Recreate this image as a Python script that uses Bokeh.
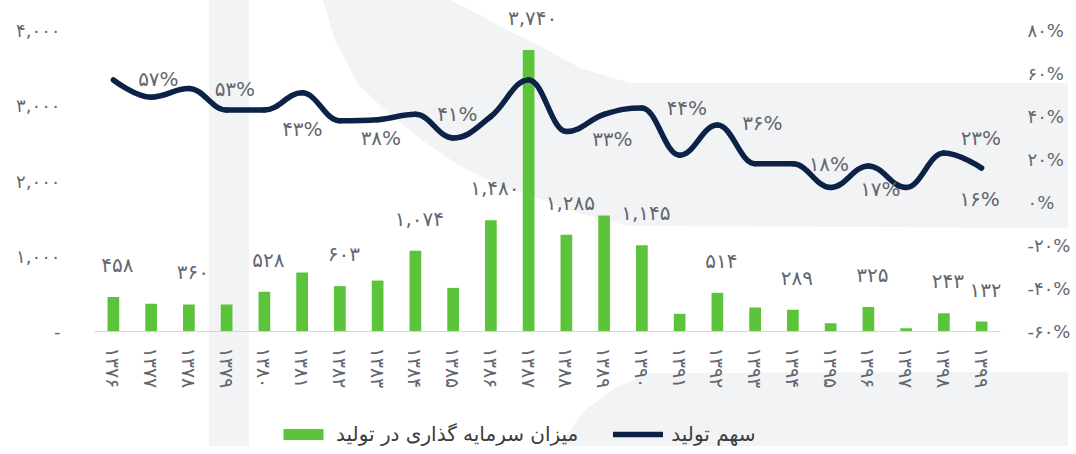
import numpy as np
from urllib.parse import quote
from bokeh.plotting import figure
from bokeh.models import (ColumnDataSource, Range1d, LinearAxis, FixedTicker,
                          LabelSet, Legend, LegendItem)
from bokeh.core.properties import value
from bokeh.embed import file_html
from bokeh.resources import INLINE

# ---------------- data ----------------
years = [1376, 1377, 1378, 1379, 1380, 1381, 1382, 1383, 1384, 1385, 1386, 1387,
         1388, 1389, 1390, 1391, 1392, 1393, 1394, 1395, 1396, 1397, 1398, 1399]
investment = [458, 368, 360, 359, 528, 784, 603, 677, 1074, 580, 1480, 3740,
              1285, 1540, 1145, 235, 514, 319, 289, 110, 325, 44, 243, 132]
invest_labelled = [1, 0, 1, 0, 1, 0, 1, 0, 1, 0, 1, 1,
                   1, 0, 1, 0, 1, 0, 1, 0, 1, 0, 1, 1]
share = [57, 49, 53, 43, 43, 51, 38, 38.5, 41, 30, 40, 57,
         33, 41, 44, 22, 36, 18, 18, 7, 17, 7, 23, 16]
share_labelled = [1, 0, 1, 0, 1, 0, 1, 0, 1, 0, 0, 0,
                  1, 0, 1, 0, 1, 0, 1, 0, 1, 0, 1, 1]
left_ticks = [0, 1000, 2000, 3000, 4000]
right_ticks = [-60, -40, -20, 0, 20, 40, 60, 80]
bar_name = "میزان سرمایه گذاری در تولید"
line_name = "سهم تولید"

# label placement (screen px) for the percent labels, in order of labelled points
pct_dx = [45, 46, 38, 41, 42, 46, 45, 45, 36, 12, 37, -2]
pct_dy = [1, 0, -19, -17, 0, -7, 0, 2, 0, -23, 15, -31]

FA = str.maketrans("0123456789", "۰۱۲۳۴۵۶۷۸۹")
def fa(s):
    return str(s).translate(FA)

FONT = "DejaVu Sans"
GREEN = "#5cc43b"
NAVY = "#0c2247"
GREY = "#f2f3f5"
TXT = "#63666f"

W, H = 1068, 446
TOP, BASE = 30, 331          # pixel rows of the value-axis maximum and of the zero line
n = len(years)
xs = list(range(n))

# ---------------- decorative watermark behind the chart (CSS background) ----------------
def poly(pts):
    return '<polygon fill="%s" points="%s"/>' % (GREY, " ".join("%d,%d" % q for q in pts))
deco = [
    [(209, 0), (249, 0), (249, H), (209, H)],
    [(323, 0), (335, 40), (357, 83), (390, 115), (423, 141), (460, 166), (500, 186),
     (540, 199), (580, 214), (630, 226), (W, 228), (W, 83), (630, 83), (580, 68),
     (540, 46), (507, 30), (480, 15), (450, 0)],
    [(558, H), (585, 410), (615, 388), (650, 373), (W, 372), (W, H)],
]
svg = ('<svg xmlns="http://www.w3.org/2000/svg" width="%d" height="%d">' % (W, H)
       + "".join(poly(d) for d in deco) + "</svg>")
bg = 'url("data:image/svg+xml;utf8,%s")' % quote(svg)

# the frame covers the full canvas height (so labels are never clipped);
# the value scales are set so that 0..4000 / -60..80% span rows BASE..TOP
span_px = BASE - TOP
below_px = H - BASE
above_px = TOP
lmax = left_ticks[-1]
l_lo = -lmax * below_px / span_px
l_hi = lmax + lmax * above_px / span_px
rlo, rhi = right_ticks[0], right_ticks[-1]
r_lo = rlo - (rhi - rlo) * below_px / span_px
r_hi = rhi + (rhi - rlo) * above_px / span_px

p = figure(frame_width=906, frame_height=H, min_border_left=94, min_border_right=68,
           min_border_top=0, min_border_bottom=0,
           x_range=Range1d(-0.5, n - 0.5), y_range=Range1d(l_lo, l_hi),
           output_backend="svg", toolbar_location=None)
p.styles = {"background-image": bg, "background-repeat": "no-repeat",
            "background-color": "white"}
p.border_fill_color = None
p.background_fill_color = None
p.outline_line_color = None
p.xgrid.visible = False
p.ygrid.visible = False
p.extra_y_ranges = {"pct": Range1d(r_lo, r_hi)}

# ---------------- bars ----------------
src = ColumnDataSource(dict(x=xs, v=investment))
bars = p.vbar(x="x", top="v", bottom=0, width=0.31, source=src, fill_color=GREEN,
              line_color=None)

bl = [i for i in range(n) if invest_labelled[i]]
bsrc = ColumnDataSource(dict(x=[xs[i] for i in bl], v=[investment[i] for i in bl],
                             t=[fa(f"{investment[i]:,}") for i in bl]))
p.add_layout(LabelSet(x="x", y="v", text="t", source=bsrc, x_offset=4, y_offset=32,
                      text_align="center", text_baseline="middle",
                      text_font=value(FONT), text_font_size="20px", text_color=TXT))

# ---------------- smoothed line (spline through the data points) ----------------
px = np.array(xs, dtype=float)
py = np.array(share, dtype=float)
rcx = px.copy(); rcy = py.copy()
lcx = px.copy(); lcy = py.copy()
sm = 1.5; den = sm + 1
for i in range(1, n - 1):
    lx = (sm * px[i] + px[i - 1]) / den
    ly = (sm * py[i] + py[i - 1]) / den
    rx = (sm * px[i] + px[i + 1]) / den
    ry = (sm * py[i] + py[i + 1]) / den
    corr = ((ry - ly) * (rx - px[i])) / (rx - lx) + py[i] - ry
    ly += corr; ry += corr
    if ly > py[i - 1] and ly > py[i]:
        ly = max(py[i - 1], py[i]); ry = 2 * py[i] - ly
    elif ly < py[i - 1] and ly < py[i]:
        ly = min(py[i - 1], py[i]); ry = 2 * py[i] - ly
    if ry > py[i + 1] and ry > py[i]:
        ry = max(py[i + 1], py[i]); ly = 2 * py[i] - ry
    elif ry < py[i + 1] and ry < py[i]:
        ry = min(py[i + 1], py[i]); ly = 2 * py[i] - ry
    lcx[i], lcy[i], rcx[i], rcy[i] = lx, ly, rx, ry

lsrc = ColumnDataSource(dict(x0=px[:-1], y0=py[:-1], x1=px[1:], y1=py[1:],
                             cx0=rcx[:-1], cy0=rcy[:-1], cx1=lcx[1:], cy1=lcy[1:]))
curve = p.bezier(x0="x0", y0="y0", x1="x1", y1="y1", cx0="cx0", cy0="cy0", cx1="cx1",
                 cy1="cy1", source=lsrc, y_range_name="pct", line_color=NAVY,
                 line_width=5.5, line_cap="round")

sl = [i for i in range(n) if share_labelled[i]]
ssrc = ColumnDataSource(dict(x=[xs[i] for i in sl], v=[share[i] for i in sl],
                             t=[fa(f"{share[i]:g}") + "%" for i in sl],
                             dx=pct_dx, dy=pct_dy))
p.add_layout(LabelSet(x="x", y="v", text="t", source=ssrc, x_offset="dx", y_offset="dy",
                      y_range_name="pct", text_align="center", text_baseline="middle",
                      text_font=value(FONT), text_font_size="20px", text_color=TXT))

# ---------------- axes ----------------
def style_axis(ax, standoff, size):
    ax.major_tick_line_color = None
    ax.minor_tick_line_color = None
    ax.major_tick_out = 0
    ax.major_tick_in = 0
    ax.minor_tick_out = 0
    ax.minor_tick_in = 0
    ax.major_label_standoff = standoff
    ax.major_label_text_font = FONT
    ax.major_label_text_font_size = size
    ax.major_label_text_color = TXT

xa = p.xaxis[0]
xa.ticker = FixedTicker(ticks=xs)
xa.major_label_overrides = {x: fa(y) for x, y in zip(xs, years)}
xa.major_label_orientation = "vertical"
xa.axis_line_color = "#ccd6eb"
xa.fixed_location = 0
style_axis(xa, 16, "19px")

ya = p.yaxis[0]
ya.ticker = FixedTicker(ticks=left_ticks)
ya.major_label_overrides = {t: ("-" if t == 0 else fa(f"{t:,}")) for t in left_ticks}
ya.axis_line_color = None
style_axis(ya, 34, "18px")

ra = LinearAxis(y_range_name="pct", ticker=FixedTicker(ticks=right_ticks))
ra.major_label_overrides = {t: ("-" if t < 0 else "") + fa(abs(t)) + "%" for t in right_ticks}
ra.axis_line_color = None
style_axis(ra, 27, "18px")
p.add_layout(ra, "right")

# ---------------- legend ----------------
legend = Legend(items=[LegendItem(label=bar_name, renderers=[bars]),
                       LegendItem(label=line_name, renderers=[curve])],
                orientation="horizontal", location=(184, 0), margin=0, padding=0,
                spacing=35, label_standoff=8, glyph_width=50, glyph_height=14,
                label_text_font=FONT, label_text_font_size="20px",
                label_text_color="#3c3c3c", background_fill_alpha=0,
                border_line_color=None)
p.add_layout(legend, "center")

open("out.html", "w").write(file_html(p, INLINE))
